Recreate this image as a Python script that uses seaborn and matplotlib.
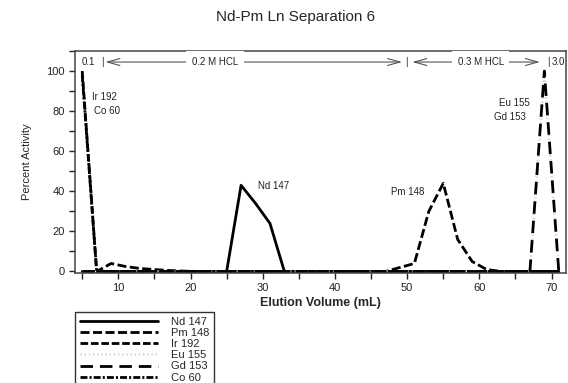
import pandas as pd
import matplotlib
matplotlib.use("Agg")
import matplotlib.pyplot as plt
from matplotlib.ticker import MultipleLocator
import seaborn as sns

# fraction volumes (mL)
volume = [5, 7, 9, 11, 13, 15, 17, 19, 21, 23, 25, 27, 29, 31, 33, 35, 37,
          39, 41, 43, 45, 47, 49, 51, 53, 55, 57, 59, 61, 63, 65, 67, 69, 71]

nd147 = [0, 0, 0, 0, 0, 0, 0, 0, 0, 0, 0, 43, 34, 24, 0, 0, 0,
         0, 0, 0, 0, 0, 0, 0, 0, 0, 0, 0, 0, 0, 0, 0, 0, 0]
pm148 = [0, 0, 4, 2.5, 1.5, 1, 0.5, 0.2, 0, 0, 0, 0, 0, 0, 0, 0, 0,
         0, 0, 0, 0, 0, 2, 4, 30, 44, 16, 5, 1, 0, 0, 0, 0, 0]
ir192 = [100, 0, 0, 0, 0, 0, 0, 0, 0, 0, 0, 0, 0, 0, 0, 0, 0,
         0, 0, 0, 0, 0, 0, 0, 0, 0, 0, 0, 0, 0, 0, 0, 0, 0]
eu155 = [0, 0, 0, 0, 0, 0, 0, 0, 0, 0, 0, 0, 0, 0, 0, 0, 0,
         0, 0, 0, 0, 0, 0, 0, 0, 0, 0, 0, 0, 0, 0, 0, 98, 0]
gd153 = [0, 0, 0, 0, 0, 0, 0, 0, 0, 0, 0, 0, 0, 0, 0, 0, 0,
         0, 0, 0, 0, 0, 0, 0, 0, 0, 0, 0, 0, 0, 0, 0, 100, 0]
co60 = [98, 0, 0, 0, 0, 0, 0, 0, 0, 0, 0, 0, 0, 0, 0, 0, 0,
        0, 0, 0, 0, 0, 0, 0, 0, 0, 0, 0, 0, 0, 0, 0, 0, 0]

isotopes = ["Nd 147", "Pm 148", "Ir 192", "Eu 155", "Gd 153", "Co 60"]
series = [nd147, pm148, ir192, eu155, gd153, co60]

frames = [pd.DataFrame({"Volume": volume, "Activity": vals, "Isotope": name})
          for name, vals in zip(isotopes, series)]
df = pd.concat(frames, ignore_index=True)

sns.set_style("ticks")
plt.rcParams["font.family"] = ["Liberation Sans", "DejaVu Sans"]
plt.rcParams["lines.scale_dashes"] = False

palette = {"Nd 147": "black", "Pm 148": "black", "Ir 192": "black",
           "Eu 155": "#d8d8d8", "Gd 153": "black", "Co 60": "black"}
dashes = {"Nd 147": "", "Pm 148": (6.5, 2.5), "Ir 192": (5.5, 2),
          "Eu 155": (1, 2), "Gd 153": (9, 5), "Co 60": (5, 1.5, 1.5, 1.5)}

fig = plt.figure(figsize=(5.68, 3.83), dpi=100)
ax = fig.add_axes([75 / 568, 1 - 272.5 / 383, 491 / 568, 221.5 / 383])

sns.lineplot(data=df, x="Volume", y="Activity", hue="Isotope", style="Isotope",
             hue_order=isotopes, style_order=isotopes, palette=palette,
             dashes=dashes, linewidth=2, estimator=None, sort=False, ax=ax)

ax.set_xlim(4, 72)
ax.set_ylim(-0.5, 110)
ax.xaxis.set_minor_locator(MultipleLocator(5))
ax.yaxis.set_major_locator(MultipleLocator(20))
ax.yaxis.set_minor_locator(MultipleLocator(10))
ax.set_xticks([10, 20, 30, 40, 50, 60, 70])
ax.tick_params(which="both", direction="out", length=4, width=1, labelsize=8,
               colors="#222222")
for s in ax.spines.values():
    s.set_visible(True)
    s.set_linewidth(1.1)
    s.set_color("#444444")

ax.set_xlabel("Elution Volume (mL)", fontsize=9, fontweight="bold", labelpad=3)
ax.set_ylabel("Percent Activity", fontsize=8, labelpad=10)
fig.text(296 / 568, 1 - 17 / 383, "Nd-Pm Ln Separation 6", fontsize=11,
         ha="center", va="center")

# peak labels
lab = dict(fontsize=7, color="#222222", va="center")
ax.text(6.4, 87, "Ir 192", ha="left", **lab)
ax.text(6.6, 80, "Co 60", ha="left", **lab)
ax.text(29.3, 42.5, "Nd 147", ha="left", **lab)
ax.text(47.8, 39.7, "Pm 148", ha="left", **lab)
ax.text(67.0, 84, "Eu 155", ha="right", **lab)
ax.text(66.5, 77, "Gd 153", ha="right", **lab)

# eluent bands along the top
yb = 104.5
txt = dict(fontsize=7, color="#222222", ha="center", va="center")
arrow = dict(arrowstyle="<->,head_length=0.9,head_width=0.25", lw=0.8,
             color="#555555", shrinkA=0, shrinkB=0)
ax.text(5.85, yb, "0.1", **txt)
ax.text(7.8, yb, "|", **txt)
ax.annotate("", xy=(8.2, yb), xytext=(49.3, yb), arrowprops=arrow)
ax.text(23.4, yb, "0.2 M HCL", bbox=dict(fc="white", ec="none", pad=4), **txt)
ax.text(49.9, yb, "|", **txt)
ax.annotate("", xy=(50.7, yb), xytext=(68.4, yb), arrowprops=arrow)
ax.text(60.2, yb, "0.3 M HCL", bbox=dict(fc="white", ec="none", pad=4), **txt)
ax.text(69.5, yb, "|", **txt)
ax.text(70.9, yb, "3.0", **txt)

handles, labels = ax.get_legend_handles_labels()
ax.get_legend().remove()
fig.legend(handles, labels, loc="upper left",
           bbox_to_anchor=(75 / 568, 1 - 312 / 383), fontsize=8,
           handlelength=7, handletextpad=1.2, labelspacing=0.1,
           borderpad=0.45, borderaxespad=0, frameon=True, fancybox=False,
           edgecolor="#333333", framealpha=1)

fig.savefig("out.png", dpi=100)
plt.close(fig)
